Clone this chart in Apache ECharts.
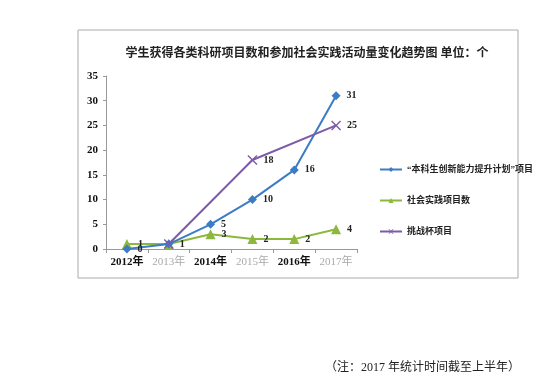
<!DOCTYPE html>
<html><head><meta charset="utf-8">
<script src="https://cdn.jsdelivr.net/npm/echarts@6/dist/echarts.min.js"></script>
<style>html,body{margin:0;padding:0;background:#fff}#c{width:550px;height:381px}</style>
</head><body><div id="c"></div>
<script>
const categories = ['2012年','2013年','2014年','2015年','2016年','2017年'];
const seriesNames = ['“本科生创新能力提升计划”项目','社会实践项目数','挑战杯项目'];
const innovation = [0, 1, 5, 10, 16, 31];
const practice = [1, 1, 3, 2, 2, 4];
const challenge = [null, 1, null, 18, null, 25];
const yTicks = [0, 5, 10, 15, 20, 25, 30, 35];
const titleText = '学生获得各类科研项目数和参加社会实践活动量变化趋势图 单位：个';
const noteText = '（注：2017 年统计时间截至上半年）';

const serif = "'Liberation Serif','DejaVu Serif','Noto Sans CJK SC',serif";
const labelBase = {show:true, position:'right', distance:6, color:'#222', fontWeight:'bold', fontSize:10, fontFamily:serif};
const xSym = 'path://M0,1 L1,0 L5,4 L9,0 L10,1 L6,5 L10,9 L9,10 L5,6 L1,10 L0,9 L4,5 Z';

function pts(arr, hidden){
  return arr.map((v,i)=>{
    const o = {value:v};
    if (hidden && hidden.indexOf(i) >= 0) o.label = {show:false};
    return o;
  });
}

const chart = echarts.init(document.getElementById('c'));
chart.setOption({
  animation:false,
  backgroundColor:'#fff',
  title:{text:titleText, left:302, top:43, textAlign:'center',
    textStyle:{fontSize:12, fontWeight:'bold', color:'#222', fontFamily:serif}},
  graphic:[
    {type:'rect', shape:{x:78, y:30, width:440, height:248}, style:{fill:'none', stroke:'#aaa', lineWidth:1}},
    {type:'text', left:325, top:362, style:{text:noteText, fontSize:12, fill:'#222', fontFamily:serif}}
  ],
  legend:{orient:'vertical', left:374, top:160, itemGap:22, itemWidth:22, itemHeight:6,
    textStyle:{fontSize:9, fontWeight:'bold', color:'#222', fontFamily:serif},
    data:seriesNames},
  grid:{left:106, top:76, width:251, height:173, containLabel:false},
  xAxis:{type:'category', data:categories, boundaryGap:true,
    axisLine:{lineStyle:{color:'#999'}}, axisTick:{show:true, length:4, lineStyle:{color:'#999'}},
    axisLabel:{interval:0, margin:8, fontSize:11, fontFamily:serif,
      formatter:(v,i)=> i%2===0 ? '{b|'+v+'}' : '{g|'+v+'}',
      rich:{b:{fontWeight:'bold', color:'#111', fontSize:11, fontFamily:serif},
            g:{fontWeight:'normal', color:'#aaa', fontSize:11, fontFamily:serif}}}},
  yAxis:{type:'value', min:yTicks[0], max:yTicks[yTicks.length-1], interval:5,
    axisLine:{show:true, lineStyle:{color:'#999'}}, axisTick:{show:true, length:3, lineStyle:{color:'#999'}},
    splitLine:{show:false},
    axisLabel:{fontSize:11, fontWeight:'bold', color:'#111', fontFamily:serif, margin:8}},
  series:[
    {name:seriesNames[0], type:'line', symbol:'diamond', symbolSize:9,
      itemStyle:{color:'#3c7cc4'}, lineStyle:{width:2, color:'#3c7cc4'},
      label:labelBase, data:pts(innovation, [1]), z:3},
    {name:seriesNames[1], type:'line', symbol:'triangle', symbolSize:10,
      itemStyle:{color:'#8cb83c'}, lineStyle:{width:2, color:'#8cb83c'},
      label:labelBase, data:pts(practice, []), z:2},
    {name:seriesNames[2], type:'line', symbol:xSym, symbolSize:10, connectNulls:true,
      itemStyle:{color:'#7d5ba6'}, lineStyle:{width:2, color:'#7d5ba6'},
      label:labelBase, data:pts(challenge, [1]), z:4}
  ]
});
</script></body></html>
